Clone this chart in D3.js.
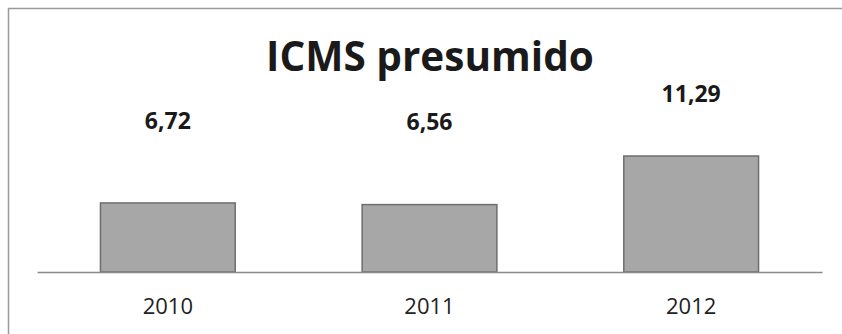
<!DOCTYPE html>
<html>
<head>
<meta charset="utf-8">
<script src="https://cdn.jsdelivr.net/npm/d3@7"></script>
<style>
  body { margin: 0; background: #fff; }
  svg { display: block; font-family: "Open Sans", sans-serif; }
</style>
</head>
<body>
<div id="chart"></div>
<script>
// --- Data ---
const years = ['2010', '2011', '2012'];
const values = [6.72, 6.56, 11.29];
const valueLabels = ['6,72', '6,56', '11,29'];
const title = 'ICMS presumido';

// --- Config ---
const width = 842;
const height = 334;
const baseY = 272;

const svg = d3.select('#chart').append('svg')
    .attr('width', width)
    .attr('height', height);

// frame (only top and left edges are visible in the scan)
svg.append('path')
    .attr('d', `M8.5,${height} L8.5,8.5 L${width},8.5`)
    .attr('fill', 'none')
    .attr('stroke', '#9a9a9a')
    .attr('stroke-width', 1.5);

const x = d3.scaleBand()
    .domain(years)
    .range([37, 822])
    .paddingInner(0.485)
    .paddingOuter(0.2425);

const y = d3.scaleLinear()
    .domain([0, 11.29])
    .range([baseY, 156]);

// labels sit higher than the bars in the original, on their own scale
const labelY = d3.scaleLinear()
    .domain([6.72, 11.29])
    .range([129, 102]);

svg.append('text')
    .attr('x', 430)
    .attr('y', 71)
    .attr('text-anchor', 'middle')
    .attr('font-size', 40.5)
    .attr('font-weight', 'bold')
    .attr('fill', '#1a1a1a')
    .text(title);

svg.selectAll('rect.bar')
    .data(values)
    .join('rect')
    .attr('class', 'bar')
    .attr('x', (d, i) => x(years[i]))
    .attr('width', x.bandwidth())
    .attr('y', d => y(d))
    .attr('height', d => baseY - y(d))
    .attr('fill', '#a7a7a7')
    .attr('stroke', '#6e6e6e')
    .attr('stroke-width', 1.5);

// baseline
const axis = d3.axisBottom(x).tickSize(0).tickPadding(26);
const gx = svg.append('g')
    .attr('transform', `translate(0,${baseY})`)
    .call(axis);
gx.select('.domain').attr('stroke', '#8a8a8a').attr('stroke-width', 1.5);
gx.selectAll('text')
    .attr('font-size', 22)
    .attr('fill', '#222')
    .attr('font-family', '"Open Sans", sans-serif');

svg.selectAll('text.val')
    .data(values)
    .join('text')
    .attr('class', 'val')
    .attr('x', (d, i) => x(years[i]) + x.bandwidth() / 2)
    .attr('y', d => labelY(d))
    .attr('text-anchor', 'middle')
    .attr('font-size', 23)
    .attr('font-weight', 'bold')
    .attr('fill', '#1a1a1a')
    .text((d, i) => valueLabels[i]);
</script>
</body>
</html>
